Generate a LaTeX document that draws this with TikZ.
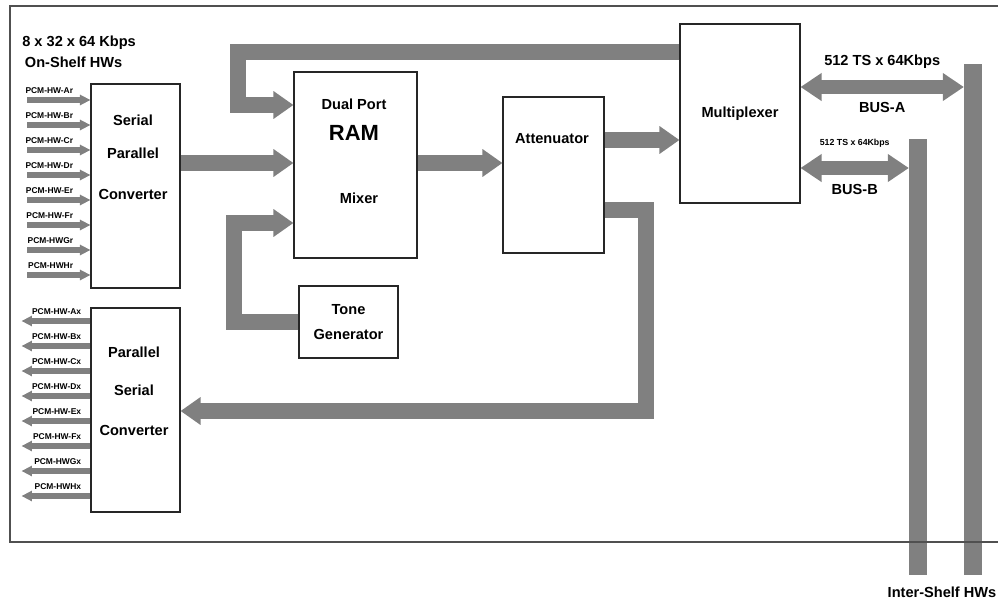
\documentclass[tikz,border=0pt]{standalone}
\usepackage{fontspec}
\setmainfont{Liberation Sans}
\usetikzlibrary{arrows.meta, calc, positioning}

\definecolor{busgray}{HTML}{808080}
\definecolor{framegray}{HTML}{505050}

\tikzset{
  blockbox/.style={draw=black!85, line width=0.6pt, fill=white, inner sep=0pt},
  boxtext/.style={font=\fontsize{8.3}{10}\selectfont\bfseries, align=center, inner sep=0pt, text=black},
  hwlabel/.style={font=\fontsize{4.8}{5}\selectfont\bfseries, inner sep=0.3pt, text=black},
  hwarrow/.style={busgray, line width=0.12cm, -{Triangle[width=0.2cm, length=0.21cm]}},
  bigarrow/.style={busgray, line width=0.31cm, -{Triangle[width=0.53cm, length=0.4cm]}},
  busarrow/.style={busgray, line width=0.28cm, {Triangle[width=0.53cm, length=0.42cm]}-{Triangle[width=0.53cm, length=0.42cm]}},
  busbar/.style={fill=busgray, minimum width=0.35cm, inner sep=0pt},
}

\begin{document}
\begin{tikzpicture}[x=0.02cm, y=-0.02cm]
  \useasboundingbox (0,0) rectangle (998,602);

  % blocks
  \node[blockbox, minimum width=1.78cm, minimum height=4.08cm] (serpar) at (135.5,186) {};
  \node[blockbox, minimum width=1.78cm, minimum height=4.08cm] (parser) at (135.5,410) {};
  \node[blockbox, minimum width=2.46cm, minimum height=3.72cm] (ram) at (355.5,165) {};
  \node[blockbox, minimum width=2.02cm, minimum height=3.12cm] (att) at (553.5,175) {};
  \node[blockbox, boxtext, minimum width=2.4cm, minimum height=3.58cm] (mux) at (740,113.5) {Multiplexer};
  \node[blockbox, boxtext, minimum width=1.98cm, minimum height=1.44cm] (tone) at (348.5,322) {Tone\\[3.8pt]Generator};

  \node[boxtext] (serpartext) at (133,157) {Serial\\[8.7pt]Parallel\\[13.2pt]Converter};
  \node[boxtext] (partsertext) at (134,391.5) {Parallel\\[11.5pt]Serial\\[13.2pt]Converter};
  \node[boxtext] (ramport) at (354,104) {Dual Port};
  \node[boxtext, font=\fontsize{12.5}{14}\selectfont\bfseries] (ramname) at (354,133) {RAM};
  \node[boxtext] (ramsub) at (359,198) {Mixer};
  \node[boxtext] (atttext) at (552,139) {Attenuator};

  % on-shelf highways
  \node[boxtext, align=left, anchor=west] (shelftitle) at (22,52) {8 x 32 x 64 Kbps\\[1.7pt]\hspace{1.5pt}On-Shelf HWs};
  \foreach \lab [count=\i from 0] in {PCM-HW-Ar,PCM-HW-Br,PCM-HW-Cr,PCM-HW-Dr,PCM-HW-Er,PCM-HW-Fr,PCM-HWGr,PCM-HWHr}{
    \coordinate (hwin\i) at (27,100+25*\i);
    \draw[hwarrow] (hwin\i) -- (serpar.west |- hwin\i);
    \node[hwlabel, anchor=south east] (hwinlab\i) at (74,94.5+25*\i) {\lab};
  }
  \foreach \lab [count=\i from 0] in {PCM-HW-Ax,PCM-HW-Bx,PCM-HW-Cx,PCM-HW-Dx,PCM-HW-Ex,PCM-HW-Fx,PCM-HWGx,PCM-HWHx}{
    \coordinate (hwout\i) at (21.5,321+25*\i);
    \draw[hwarrow] (parser.west |- hwout\i) -- (hwout\i);
    \node[hwlabel, anchor=south east] (hwoutlab\i) at (82,315.5+25*\i) {\lab};
  }

  % data path
  \draw[bigarrow] (serpar.east |- 0,163) -- (ram.west |- 0,163);
  \draw[bigarrow] (ram.east |- 0,163) -- (att.west |- 0,163);
  \draw[bigarrow] (att.east |- 0,140) -- (mux.west |- 0,140);

  \coordinate (fbtop) at (238,52);
  \coordinate (fbdown) at (238,105);
  \draw[bigarrow] (mux.west |- fbtop) -- (fbtop) -- (fbdown) -- (ram.west |- fbdown);% loop back from multiplexer

  \coordinate (tonebend1) at (234,322);
  \coordinate (tonebend2) at (234,223);
  \draw[bigarrow] (tone.west |- tonebend1) -- (tonebend1) -- (tonebend2) -- (ram.west |- tonebend2);

  \coordinate (attbend1) at (646,210);
  \coordinate (attbend2) at (646,411);
  \draw[bigarrow] (att.east |- attbend1) -- (attbend1) -- (attbend2) -- (parser.east |- attbend2);

  % inter-shelf buses
  \node[busbar, minimum height=10.22cm] (busA) at (973,319.5) {};
  \node[busbar, minimum height=8.72cm] (busB) at (918,357) {};
  \draw[busarrow] (mux.east |- 0,87) -- (busA.west |- 0,87)
    node[boxtext, midway, yshift=0.5cm] (busArate) {512 TS x 64Kbps}
    node[boxtext, midway, yshift=-0.4cm] (busAname) {BUS-A};
  \draw[busarrow] (mux.east |- 0,168) -- (busB.west |- 0,168)
    node[boxtext, midway, yshift=0.49cm, font=\fontsize{5}{6}\selectfont\bfseries] (busBrate) {512 TS x 64Kbps}
    node[boxtext, midway, yshift=-0.43cm] (busBname) {BUS-B};
  \node[boxtext] (intershelf) at (942,592) {Inter-Shelf HWs};

  \draw[framegray, line width=0.6pt] (998,6) -- (10,6) -- (10,542) -- (998,542);% shelf frame, open to the right
\end{tikzpicture}
\end{document}
